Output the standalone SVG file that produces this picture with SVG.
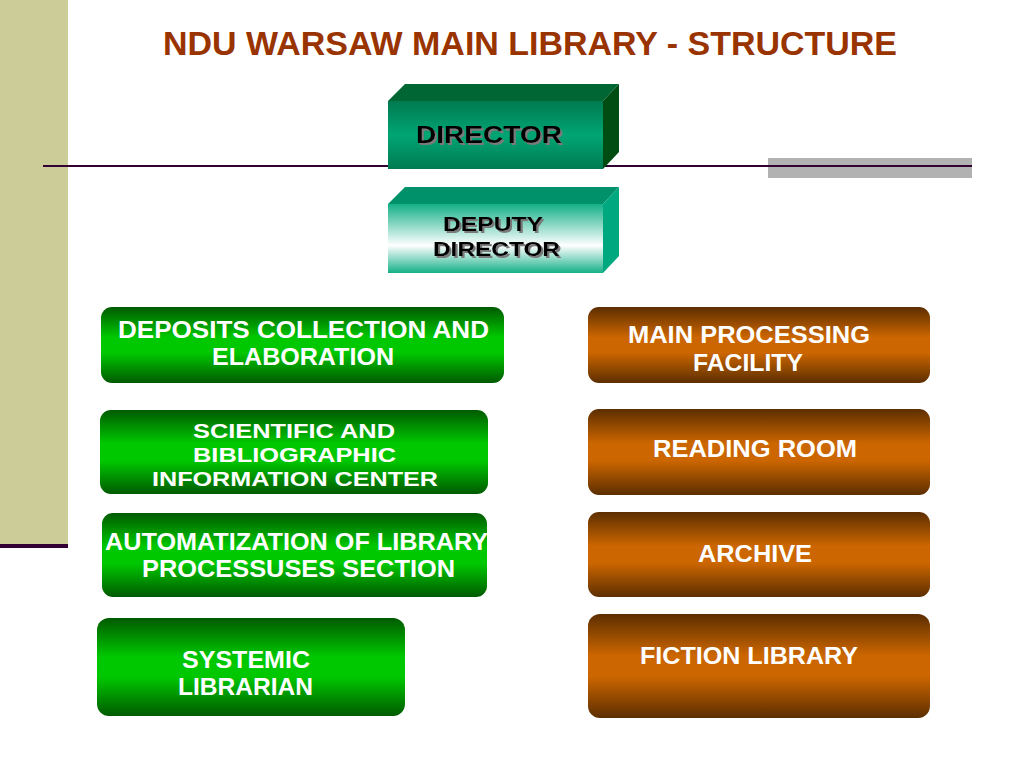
<svg xmlns="http://www.w3.org/2000/svg" width="1024" height="768" viewBox="0 0 1024 768">
<defs>
<linearGradient id="gGreen" x1="0" y1="0" x2="0" y2="1">
<stop offset="0" stop-color="#005a00"/>
<stop offset="0.4" stop-color="#00c800"/>
<stop offset="0.6" stop-color="#00c800"/>
<stop offset="1" stop-color="#005a00"/>
</linearGradient>
<linearGradient id="gBrown" x1="0" y1="0" x2="0" y2="1">
<stop offset="0" stop-color="#5c2e00"/>
<stop offset="0.4" stop-color="#cc6600"/>
<stop offset="0.6" stop-color="#cc6600"/>
<stop offset="1" stop-color="#5c2e00"/>
</linearGradient>
<linearGradient id="gDir" x1="0" y1="0" x2="0" y2="1">
<stop offset="0" stop-color="#007a50"/>
<stop offset="0.5" stop-color="#00a574"/>
<stop offset="1" stop-color="#007a50"/>
</linearGradient>
<linearGradient id="gDep" x1="0" y1="0" x2="0" y2="1">
<stop offset="0" stop-color="#14b088"/>
<stop offset="0.6" stop-color="#ffffff"/>
<stop offset="1" stop-color="#14b088"/>
</linearGradient>
<filter id="shadow" x="-10%" y="-20%" width="120%" height="150%">
<feDropShadow dx="2" dy="2" stdDeviation="0.4" flood-color="#7a7a7a" flood-opacity="1"/>
</filter>
</defs>
<style>
.t{font-family:"Liberation Sans",Arial,sans-serif;font-weight:bold;font-size:24px}
.w{fill:#ffffff}
.k{fill:#000000;filter:url(#shadow)}
.dep{font-size:21px}
.title{font-family:"Liberation Sans",Arial,sans-serif;font-weight:bold;font-size:33px;fill:#993300}
</style>
<rect width="1024" height="768" fill="#ffffff"/>
<rect x="0" y="0" width="68" height="545" fill="#cccc99"/>
<rect x="0" y="544" width="68" height="4" fill="#330033"/>
<rect x="768" y="158" width="204" height="20" fill="#b2b2b2"/>
<line x1="43" y1="166" x2="972" y2="166" stroke="#330033" stroke-width="2"/>
<text class="title" x="163" y="55" textLength="734" lengthAdjust="spacingAndGlyphs">NDU WARSAW MAIN LIBRARY - STRUCTURE</text>
<g id="director">
<polygon points="388,101 405,84 619,84 603,101" fill="#006633"/>
<polygon points="603,101 619,84 619,152 603,169" fill="#004d14"/>
<rect x="388" y="101" width="215" height="68" fill="url(#gDir)"/>
<text class="t k" x="416" y="143" textLength="146" lengthAdjust="spacingAndGlyphs">DIRECTOR</text>
</g>
<g id="deputy">
<polygon points="388,204 405,187 619,187 603,204" fill="#00916a"/>
<polygon points="603,204 619,187 619,256 603,273" fill="#00a880"/>
<rect x="388" y="204" width="215" height="69" fill="url(#gDep)"/>
<text class="t k dep" x="443" y="231" textLength="100" lengthAdjust="spacingAndGlyphs">DEPUTY</text>
<text class="t k dep" x="433" y="256" textLength="127" lengthAdjust="spacingAndGlyphs">DIRECTOR</text>
</g>
<g id="deposits">
<rect x="101" y="307" width="403" height="76" rx="11" fill="url(#gGreen)"/>
<text class="t w" x="118" y="338" textLength="371" lengthAdjust="spacingAndGlyphs">DEPOSITS COLLECTION  AND</text>
<text class="t w" x="212" y="365" textLength="182" lengthAdjust="spacingAndGlyphs">ELABORATION</text>
</g>
<g id="scientific">
<rect x="100" y="410" width="388" height="84" rx="11" fill="url(#gGreen)"/>
<text class="t w dep" x="193" y="438" textLength="202" lengthAdjust="spacingAndGlyphs">SCIENTIFIC AND</text>
<text class="t w dep" x="193" y="462" textLength="203" lengthAdjust="spacingAndGlyphs">BIBLIOGRAPHIC</text>
<text class="t w dep" x="152" y="486" textLength="286" lengthAdjust="spacingAndGlyphs">INFORMATION CENTER</text>
</g>
<g id="automatization">
<rect x="102" y="513" width="385" height="84" rx="11" fill="url(#gGreen)"/>
<text class="t w" x="105" y="550" textLength="383" lengthAdjust="spacingAndGlyphs">AUTOMATIZATION OF LIBRARY</text>
<text class="t w" x="142" y="577" textLength="313" lengthAdjust="spacingAndGlyphs">PROCESSUSES SECTION</text>
</g>
<g id="systemic">
<rect x="97" y="618" width="308" height="98" rx="12" fill="url(#gGreen)"/>
<text class="t w" x="182" y="668" textLength="128" lengthAdjust="spacingAndGlyphs">SYSTEMIC</text>
<text class="t w" x="178" y="695" textLength="135" lengthAdjust="spacingAndGlyphs">LIBRARIAN</text>
</g>
<g id="processing">
<rect x="588" y="307" width="342" height="76" rx="11" fill="url(#gBrown)"/>
<text class="t w" x="628" y="343" textLength="242" lengthAdjust="spacingAndGlyphs">MAIN PROCESSING</text>
<text class="t w" x="693" y="371" textLength="110" lengthAdjust="spacingAndGlyphs">FACILITY</text>
</g>
<g id="reading">
<rect x="588" y="409" width="342" height="86" rx="11" fill="url(#gBrown)"/>
<text class="t w" x="653" y="457" textLength="204" lengthAdjust="spacingAndGlyphs">READING ROOM</text>
</g>
<g id="archive">
<rect x="588" y="512" width="342" height="85" rx="11" fill="url(#gBrown)"/>
<text class="t w" x="698" y="562" textLength="114" lengthAdjust="spacingAndGlyphs">ARCHIVE</text>
</g>
<g id="fiction">
<rect x="588" y="614" width="342" height="104" rx="12" fill="url(#gBrown)"/>
<text class="t w" x="640" y="664" textLength="218" lengthAdjust="spacingAndGlyphs">FICTION LIBRARY</text>
</g>
<g id="connectors"></g>
</svg>
